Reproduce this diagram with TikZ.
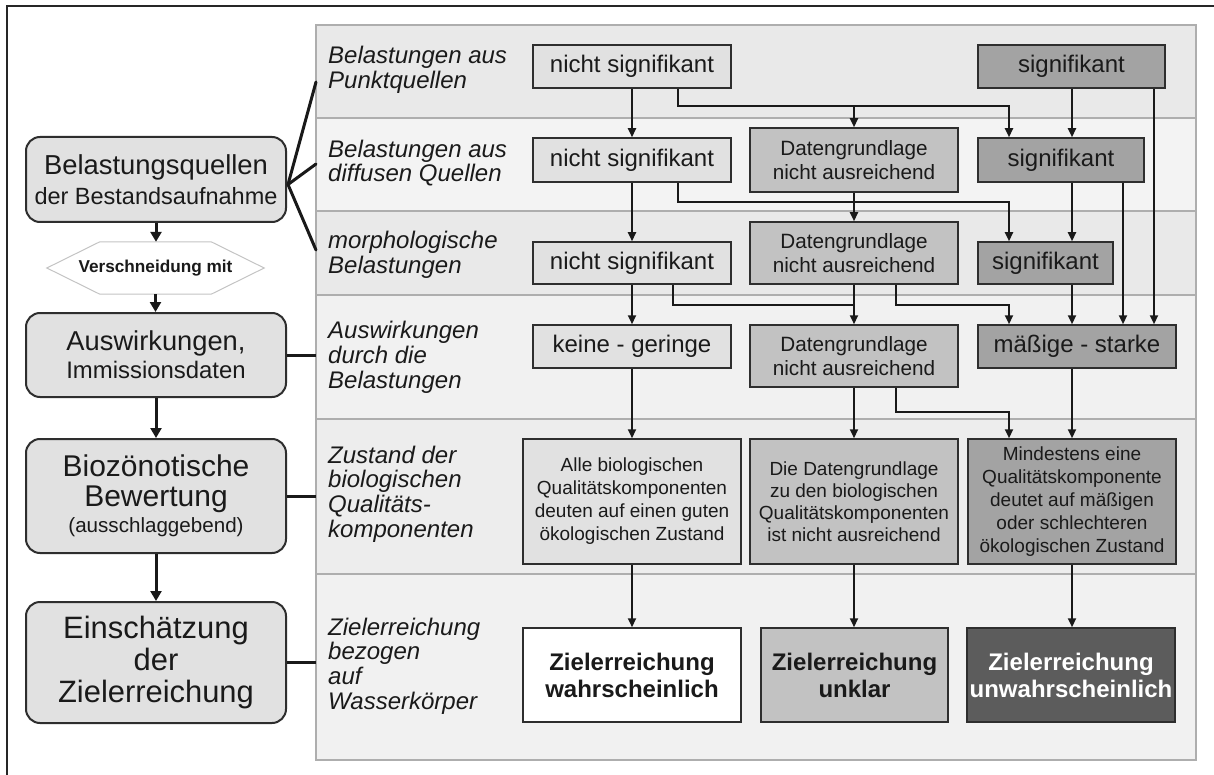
\documentclass[tikz,border=0pt]{standalone}
\usepackage{fontspec}
\setmainfont{Liberation Sans}
\usetikzlibrary{arrows.meta,calc}
\definecolor{rowA}{HTML}{E9E9E9}
\definecolor{rowB}{HTML}{F3F3F3}
\definecolor{rowC}{HTML}{F1F1F1}
\definecolor{rowD}{HTML}{EDEDED}
\definecolor{sepc}{HTML}{AEAEAE}
\definecolor{fillL}{HTML}{E1E1E1}
\definecolor{fillM}{HTML}{C2C2C2}
\definecolor{fillD}{HTML}{A3A3A3}
\definecolor{fillX}{HTML}{5C5C5C}
\definecolor{boxline}{HTML}{2E2E2E}
\definecolor{txt}{HTML}{1A1A1A}
\definecolor{hexline}{HTML}{C4C4C4}
\newcommand\fsz[2]{\fontsize{#1}{#2}\selectfont}
\tikzset{
  box/.style={draw=boxline, line width=1.5pt, inner sep=0pt, align=center, text=txt},
  lbox/.style={draw=boxline, line width=2pt, rounded corners=14pt, fill=fillL, inner sep=0pt,
               align=center, text=txt, minimum width=260pt},
  arr/.style={line width=2pt, draw=black!90, -{Triangle[length=9pt,width=8pt]}},
  larr/.style={line width=3pt, draw=black!90, -{Triangle[length=10pt,width=11pt]}},
  conn/.style={line width=3pt, draw=black!90, line cap=round},
  plainline/.style={line width=2pt, draw=black!90},
  seprule/.style={line width=1.5pt, draw=sepc},
  lab/.style={anchor=west, align=left, inner sep=0pt, text=txt, font=\itshape\fsz{24}{24.8}},
}
\begin{document}
\begin{tikzpicture}[x=1pt,y=-1pt]
\useasboundingbox (0,0) rectangle (1214,775);
\fill[white] (0,0) rectangle (1214,775);
% outer frame
\draw[line width=2pt, black!85] (1220,6) -- (7,6) -- (7,780);
% panel rows
\fill[rowA] (316,25) rectangle (1196,118);
\fill[rowB] (316,118) rectangle (1196,211);
\fill[rowA] (316,211) rectangle (1196,295);
\fill[rowC] (316,295) rectangle (1196,419);
\fill[rowD] (316,419) rectangle (1196,574);
\fill[rowC] (316,574) rectangle (1196,760);
\draw[seprule] (316,118) -- (1196,118);
\draw[seprule] (316,211) -- (1196,211);
\draw[seprule] (316,295) -- (1196,295);
\draw[seprule] (316,419) -- (1196,419);
\draw[seprule] (316,574) -- (1196,574);
\draw[seprule] (316,25) rectangle (1196,760);

% row labels
\node[lab] (l1) at (328,70) {Belastungen aus\\Punktquellen};
\node[lab] (l2) at (328,163) {Belastungen aus\\diffusen Quellen};
\node[lab] (l3) at (328,255) {morphologische\\Belastungen};
\node[lab] (l4) at (328,357) {Auswirkungen\\durch die\\Belastungen};
\node[lab] (l5) at (328,494) {Zustand der\\biologischen\\Qualitäts-\\komponenten};
\node[lab] (l6) at (328,666) {Zielerreichung\\bezogen\\auf\\Wasserkörper};

% column 1
\node[box, fill=fillL, minimum width=198pt, minimum height=43pt, font=\fsz{24}{24}] (ns1) at (632,66.5) {nicht signifikant};
\node[box, fill=fillL, minimum width=198pt, minimum height=44pt, font=\fsz{24}{24}] (ns2) at (632,160) {nicht signifikant};
\node[box, fill=fillL, minimum width=198pt, minimum height=42pt, font=\fsz{24}{24}] (ns3) at (632,263) {nicht signifikant};
\node[box, fill=fillL, minimum width=198pt, minimum height=43pt, font=\fsz{24}{24}] (kg) at (632,346.5) {keine - geringe};
\node[box, fill=fillL, minimum width=218pt, minimum height=125pt, font=\fsz{19}{23}] (alle) at (632,501.5)
  {Alle biologischen\\Qualitätskomponenten\\deuten auf einen guten\\ökologischen Zustand};
\node[box, fill=white, minimum width=218pt, minimum height=94pt, font=\bfseries\fsz{24}{27}] (zw) at (632,675)
  {Zielerreichung\\wahrscheinlich};

% column 2
\node[box, fill=fillM, minimum width=208pt, minimum height=64pt, font=\fsz{20.7}{24}] (dg2) at (854,160) {Datengrundlage\\nicht ausreichend};
\node[box, fill=fillM, minimum width=208pt, minimum height=62pt, font=\fsz{20.7}{24}] (dg3) at (854,253) {Datengrundlage\\nicht ausreichend};
\node[box, fill=fillM, minimum width=208pt, minimum height=62pt, font=\fsz{20.7}{24}] (dg4) at (854,356) {Datengrundlage\\nicht ausreichend};
\node[box, fill=fillM, minimum width=208pt, minimum height=125pt, font=\fsz{19}{22}] (dg5) at (854,501.5)
  {Die Datengrundlage\\zu den biologischen\\Qualitätskomponenten\\ist nicht ausreichend};
\node[box, fill=fillM, minimum width=187pt, minimum height=94pt, font=\bfseries\fsz{24}{27}] (zu) at (854.5,675)
  {Zielerreichung\\unklar};

% column 3
\node[box, fill=fillD, minimum width=187pt, minimum height=43pt, font=\fsz{24}{24}] (sig1) at (1071.5,66.5) {signifikant};
\node[box, fill=fillD, minimum width=166pt, minimum height=44pt, font=\fsz{24}{24}] (sig2) at (1061,160) {signifikant};
\node[box, fill=fillD, minimum width=135pt, minimum height=42pt, font=\fsz{24}{24}] (sig3) at (1045.5,263) {signifikant};
\node[box, fill=fillD, minimum width=198pt, minimum height=43pt, font=\fsz{24}{24}] (ms) at (1077,346.5) {mäßige - starke};
\node[box, fill=fillD, minimum width=208pt, minimum height=125pt, font=\fsz{19}{23}] (mind) at (1072,501.5)
  {Mindestens eine\\Qualitätskomponente\\deutet auf mäßigen\\oder schlechteren\\ökologischen Zustand};
\node[box, fill=fillX, minimum width=208pt, minimum height=94pt, font=\bfseries\fsz{24}{27}, text=white] (zuw) at (1071,675)
  {Zielerreichung\\unwahrscheinlich};

% column x / level coordinates
\coordinate (xA) at (678,0);
\coordinate (xA2) at (673,0);
\coordinate (xB) at (854,0);
\coordinate (xC) at (896,0);
\coordinate (xD) at (1009,0);
\coordinate (xE) at (1072,0);
\coordinate (xF) at (1123,0);
\coordinate (xG) at (1154,0);
\coordinate (yh1) at (0,106);
\coordinate (yh2) at (0,202);
\coordinate (yh3) at (0,305);
\coordinate (yh4) at (0,412);

% row 1 connectors
\draw[arr] (ns1.south) -- (ns2.north);
\draw[arr] (ns1.south -| xA) |- (xD |- yh1) -- (sig2.north -| xD);
\draw[arr] (xB |- yh1) -- (dg2.north);
\draw[arr] (sig1.south -| xE) -- (sig2.north -| xE);
\draw[arr] (sig1.south -| xG) -- (ms.north -| xG);
% row 2
\draw[arr] (ns2.south) -- (ns3.north);
\draw[arr] (ns2.south -| xA) |- (xD |- yh2) -- (sig3.north -| xD);
\draw[arr] (dg2.south) -- (dg3.north);
\draw[arr] (sig2.south -| xE) -- (sig3.north -| xE);
\draw[arr] (sig2.south -| xF) -- (ms.north -| xF);
% row 3
\draw[arr] (ns3.south) -- (kg.north);
\draw[plainline] (ns3.south -| xA2) |- (xB |- yh3);
\draw[arr] (dg3.south) -- (dg4.north);
\draw[arr] (dg3.south -| xC) |- (xD |- yh3) -- (ms.north -| xD);
\draw[arr] (sig3.south -| xE) -- (ms.north -| xE);
% row 4
\draw[arr] (kg.south) -- (alle.north);
\draw[arr] (dg4.south) -- (dg5.north);
\draw[arr] (dg4.south -| xC) |- (xD |- yh4) -- (mind.north -| xD);
\draw[arr] (ms.south -| xE) -- (mind.north -| xE);
% row 5
\draw[arr] (alle.south) -- (zw.north);
\draw[arr] (dg5.south) -- (dg5.south |- zu.north);
\draw[arr] (mind.south) -- (mind.south |- zuw.north);

% left column
\node[lbox, minimum height=85pt, font=\fsz{23.5}{30}] (b1) at (156,179.5)
  {{\fsz{27.4}{30}Belastungsquellen}\\der Bestandsaufnahme};
\node[inner sep=0pt, minimum width=217pt, minimum height=52pt, text=txt, font=\bfseries\fsz{17.2}{18}] (hex) at (155.5,268) {Verschneidung mit};
\draw[line width=1pt, draw=hexline] (hex.west) -- ($(hex.north west)+(53,0)$) -- ($(hex.north east)+(-53,0)$)
  -- (hex.east) -- ($(hex.south east)+(-53,0)$) -- ($(hex.south west)+(53,0)$) -- cycle;
\node[lbox, minimum height=84pt, font=\fsz{23.9}{28}] (b2) at (156,355)
  {{\fsz{27.3}{28}Auswirkungen,}\\Immissionsdaten};
\node[lbox, minimum height=114pt, font=\fsz{30}{29.5}] (b3) at (156,496)
  {Biozönotische\\Bewertung\\[-3pt]{\fsz{20.6}{29.5}(ausschlaggebend)}};
\node[lbox, minimum height=121pt, font=\fsz{30.9}{32}] (b4) at (156,662.5)
  {Einschätzung\\der\\Zielerreichung};

\draw[larr] (b1.south) -- (b1.south |- hex.north);
\draw[larr] (hex.south) -- (hex.south |- b2.north);
\draw[larr] (b2.south) -- (b3.north);
\draw[larr] (b3.south) -- (b4.north);

\coordinate (pl) at (316,0);
\coordinate (bj) at ($(b1.east)+(1,5)$);
\coordinate (p1) at (316,82);
\coordinate (p2) at (316,164);
\coordinate (p3) at (316,250);
\draw[conn] (bj) -- (p1);
\draw[conn] (bj) -- (p2);
\draw[conn] (bj) -- (p3);
\draw[conn, line cap=butt] (b2.east) -- (b2.east -| pl);
\draw[conn, line cap=butt] (b3.east) -- (b3.east -| pl);
\draw[conn, line cap=butt] (b4.east) -- (b4.east -| pl);
\end{tikzpicture}
\end{document}
